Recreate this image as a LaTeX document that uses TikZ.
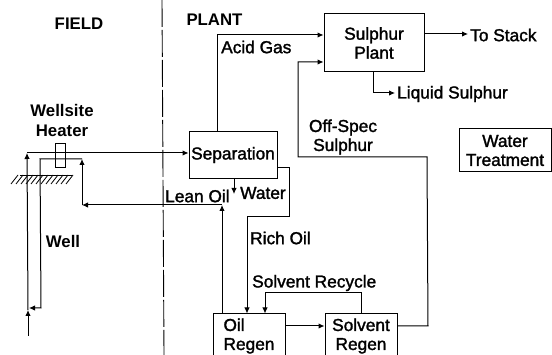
\documentclass[tikz,border=0pt]{standalone}
\usepackage{fontspec}
\setmainfont{Liberation Sans}[RawFeature={embolden=1.6}]
\newfontfamily\headfont{Liberation Sans Bold}
\usetikzlibrary{arrows.meta,positioning}
\tikzset{
  unitbox/.style={draw,line width=1pt,inner sep=0pt,align=center},
  flow/.style={line width=1pt,-{Latex[length=6pt,width=5.5pt]}},
  pipe/.style={line width=1pt},
  tag/.style={inner sep=0pt,anchor=west},
  heavy/.style={inner sep=0pt,font=\fontsize{16.8}{20}\headfont,align=center}
}
\begin{document}
\begin{tikzpicture}[x=1pt,y=-1pt,every node/.style={font=\fontsize{17.3}{19}\selectfont}]
\clip (0,0) rectangle (552,355);
\fill[white] (0,0) rectangle (552,355);
% units
\node[unitbox,minimum width=88pt,minimum height=47pt] (sep) at (233,155) {Separation};
\node[unitbox,minimum width=100pt,minimum height=58pt] (sulphur) at (374,43) {Sulphur\\Plant};
\node[unitbox,minimum width=92pt,minimum height=43pt] (water) at (505,150.5) {Water\\Treatment};
\node[unitbox,minimum width=72pt,minimum height=44pt,align=left] (oil) at (249,336) {Oil\\Regen};
\node[unitbox,minimum width=72pt,minimum height=44pt,right=39pt of oil] (solvent) {Solvent\\Regen};
\node[draw,line width=1pt,minimum width=10pt,minimum height=24pt,inner sep=0pt] (heater) at (60.5,156) {};
% headings
\node[heavy] (field) at (79,24) {FIELD};
\node[heavy] (plant) at (214.5,20) {PLANT};
\node[heavy] (site) at (62,120) {Wellsite\\Heater};
\node[heavy] (well) at (63,241) {Well};
% plant boundary
\coordinate (top) at (162,0);
\coordinate (bot) at (164,355);
\draw[line width=0.9pt,dash pattern=on 27pt off 3pt] (top) -- (bot);
% ground
\coordinate (g1) at (20,176);
\coordinate (g2) at (72,176);
\draw[line width=1pt] (g1) -- (g2);
\foreach \x in {18,23,...,73}
  \draw[line width=0.8pt] (\x,175) -- (\x-7,184);
% well loop
\coordinate (w0) at (28,336);
\coordinate (w1) at (28,310);
\coordinate (w2) at (27,153);
\coordinate (h1) at (82,159);
\coordinate (h2) at (40,159);
\coordinate (h3) at (41,308);
\coordinate (h4) at (29,308);
\coordinate (l1) at (82,205);
\coordinate (l2) at (222,205);
\draw[flow] (w0) -- (w1);
\draw[flow] (w1) -- (w2);
\draw[flow] (w2) -- (sep.west |- w2);
\draw[flow] (oil.north -| l2) -- (l2);
\draw[flow] (l2) -- (l1);
\draw[flow] (l1) -- (h1);
\draw[flow] (h1) -- (h2) -- (h3) -- (h4);
% plant streams
\coordinate (a1) at (217,35);
\coordinate (o1) at (428,326);
\coordinate (o2) at (427,157);
\coordinate (o3) at (298,157);
\coordinate (o4) at (298,62);
\coordinate (st) at (468,34);
\coordinate (ls) at (395,93);
\coordinate (ws) at (234,194);
\coordinate (r1) at (277,168);
\coordinate (r2) at (289,168);
\coordinate (r3) at (289,217);
\coordinate (r4) at (247,217);
\coordinate (c1) at (361,293);
\coordinate (c2) at (265,293);
\draw[flow] (sep.north -| a1) -- (a1) -- (sulphur.west |- a1);
\draw[flow] (solvent.east |- o1) -- (o1) -- (o2) -- (o3) -- (o4) -- (sulphur.west |- o4);
\draw[flow] (sulphur.east |- st) -- (st);
\draw[flow] (sulphur.south -| 373,0) -- (373,93) -- (ls);
\draw[flow] (sep.south -| ws) -- (ws);
\draw[pipe] (r1) -- (r2) -- (r3) -- (r4);
\draw[flow] (r4) -- (oil.north -| r4);
\draw[flow] (solvent.north -| c1) -- (c1) -- (c2) -- (oil.north -| c2);
\draw[flow] (oil.east |- o1) -- (solvent.west |- o1);
% stream labels
\node[tag] (acid) at (221,47) {Acid Gas};
\node[inner sep=0pt,align=center] (spec) at (343,137) {Off-Spec\\Sulphur};
\node[tag] (stack) at (470,35) {To Stack};
\node[tag] (liq) at (397,94) {Liquid Sulphur};
\node[tag] (lean) at (165,196) {Lean Oil};
\node[tag] (wat) at (240,193) {Water};
\node[tag] (rich) at (250,238) {Rich Oil};
\node[tag] (recy) at (252,283) {Solvent Recycle};
\end{tikzpicture}
\end{document}
